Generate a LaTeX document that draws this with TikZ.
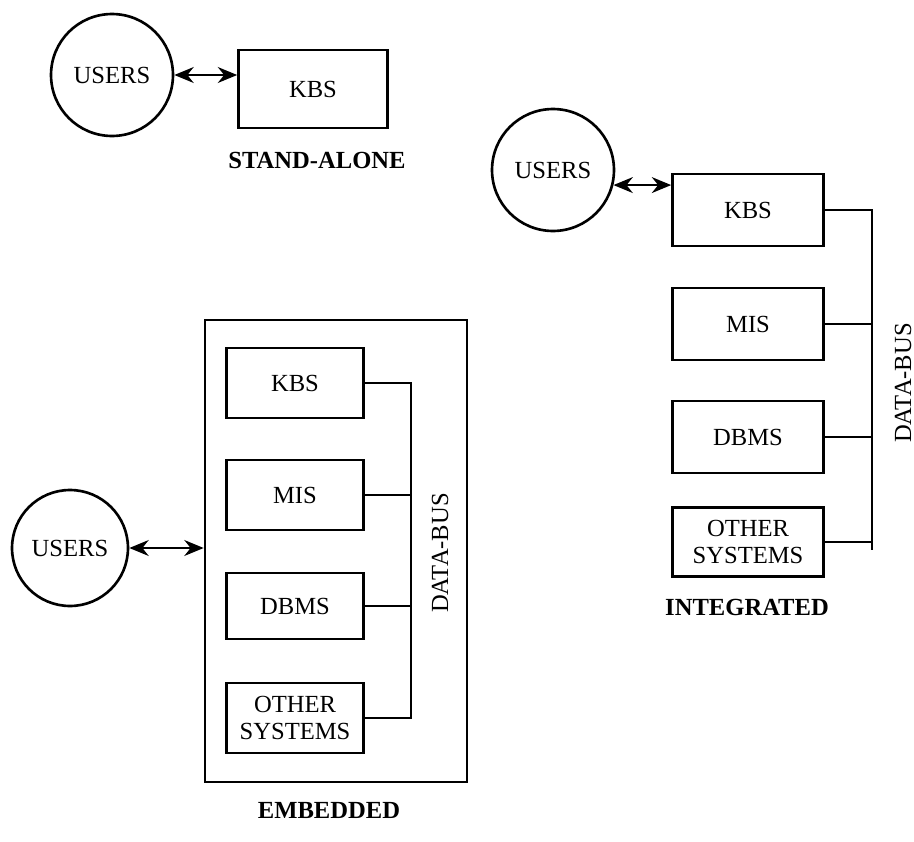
\documentclass[tikz,border=0pt]{standalone}
\usepackage{fontspec}
\setmainfont{Liberation Serif}
\usetikzlibrary{arrows.meta}

\begin{document}
\begin{tikzpicture}[
        x=0.02cm, y=-0.02cm,
        line width=1.5pt,
        font=\fontsize{14}{15}\selectfont,
        users/.style={circle,draw,minimum size=2.44cm,inner sep=0pt},
        sysbox/.style={draw,rectangle,minimum width=3.02cm,minimum height=1.44cm,align=center,inner sep=0pt},
        emb/.style={sysbox,minimum width=2.74cm,minimum height=1.4cm},
        caption/.style={font=\fontsize{14}{15}\selectfont\bfseries},
        buslabel/.style={rotate=90},
        link/.style={{Stealth[length=11pt,width=9pt]}-{Stealth[length=11pt,width=9pt]}},
      ]

      \useasboundingbox (0,0) rectangle (914,842);

      \node[users] (susers) at (112,75) {USERS};
      \node[sysbox,minimum width=2.98cm,minimum height=1.56cm] (skbs) at (313,89) {KBS};
      \node[caption] (sname) at (317,160) {STAND-ALONE};
      \draw[link] (susers.east) -- (susers.east -| skbs.west);

      \node[users] (iusers) at (553,170) {USERS};
      \node[sysbox] (ikbs) at (748,210) {KBS};
      \node[sysbox] (imis) at (748,324) {MIS};
      \node[sysbox] (idbms) at (748,437) {DBMS};
      \node[sysbox,minimum height=1.38cm] (iother) at (748,542) {OTHER\\SYSTEMS};
      \coordinate (ibustop) at (872,210);
      \coordinate (ibusend) at (872,550);
      \node[buslabel] (ibus) at (903,383) {DATA-BUS};
      \node[caption] (iname) at (747,607) {INTEGRATED};
      \draw[link] (iusers.-14) -- (iusers.-14 -| ikbs.west);
      \draw (ikbs.east) -- (ibustop) -- (ibusend);
      \draw (imis.east) -- (imis.east -| ibustop);
      \draw (idbms.east) -- (idbms.east -| ibustop);
      \draw (iother.east) -- (iother.east -| ibustop);

      \node[users,minimum size=2.32cm] (eusers) at (70,548) {USERS};
      \node[draw,rectangle,minimum width=5.24cm,minimum height=9.24cm] (ebox) at (336,551) {};
      \node[emb] (ekbs) at (295,383) {KBS};
      \node[emb] (emis) at (295,495) {MIS};
      \node[emb,minimum height=1.32cm] (edbms) at (295,606) {DBMS};
      \node[emb] (eother) at (295,718) {OTHER\\SYSTEMS};
      \coordinate (ebustop) at (411,383);
      \node[buslabel] (ebus) at (440,553) {DATA-BUS};
      \node[caption] (ename) at (329,810) {EMBEDDED};
      \draw[link] (eusers.east) -- (eusers.east -| ebox.west);
      \draw (ekbs.east) -- (ebustop) -- (ebustop |- eother.east) -- (eother.east);
      \draw (emis.east) -- (emis.east -| ebustop);
      \draw (edbms.east) -- (edbms.east -| ebustop);

    \end{tikzpicture}
\end{document}
